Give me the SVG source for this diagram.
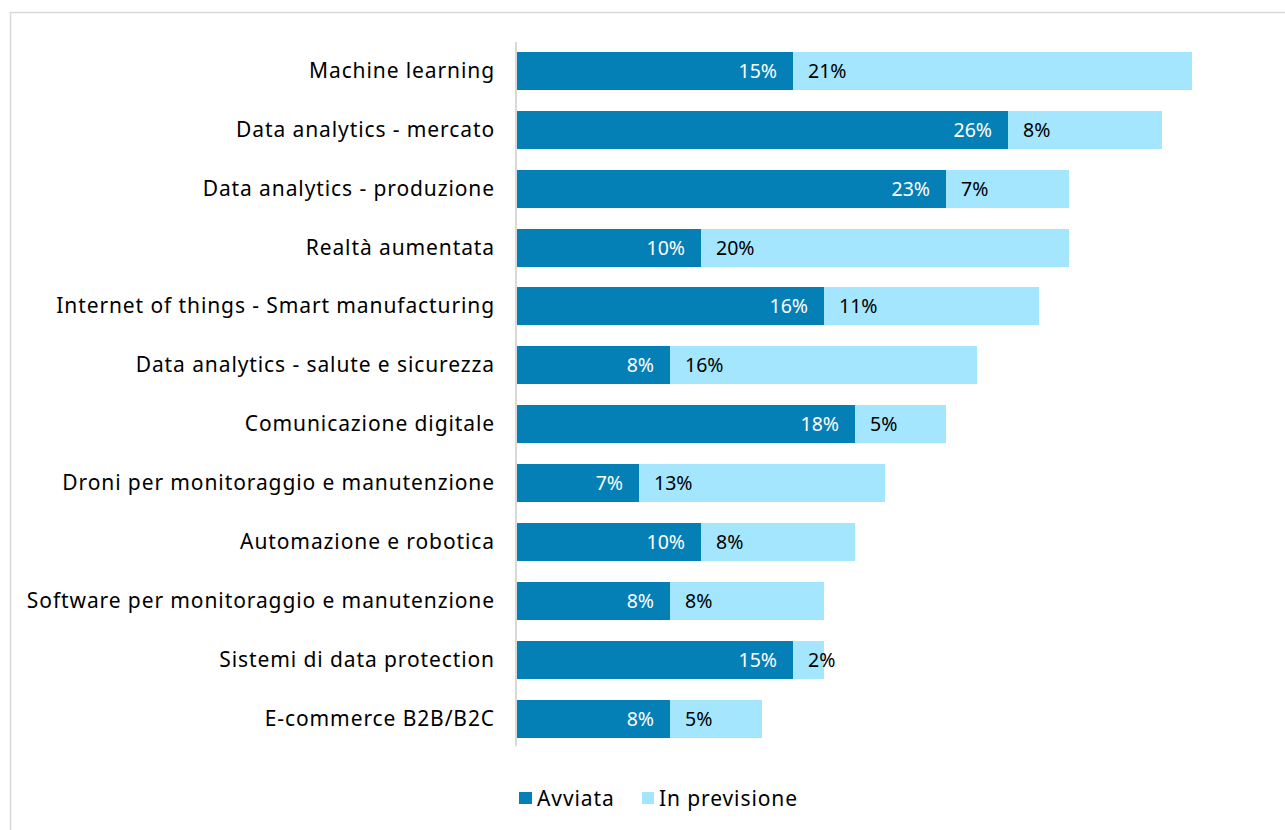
<svg xmlns="http://www.w3.org/2000/svg" width="1285" height="830" viewBox="0 0 1285 830">
<style>
.cat{font-family:"Noto Sans","DejaVu Sans",sans-serif;font-size:21px;letter-spacing:0.9px;fill:#000;text-anchor:end}
.vin{font-family:"Noto Sans","DejaVu Sans",sans-serif;font-size:19.5px;fill:#fff;text-anchor:end}
.vout{font-family:"Noto Sans","DejaVu Sans",sans-serif;font-size:19.5px;fill:#000}
.leg{font-family:"Noto Sans","DejaVu Sans",sans-serif;font-size:21px;letter-spacing:0.9px;fill:#000}
.d{fill:#0580b6}
.l{fill:#a3e6fe}
</style>
<rect x="0" y="0" width="1285" height="830" fill="#fff"/>
<rect x="10.5" y="12.5" width="1290" height="830" fill="none" stroke="#d9d9d9" stroke-width="1.5"/>
<g id="axis"><line x1="516" y1="42" x2="516" y2="746" stroke="#d9d9d9" stroke-width="2"/></g>
<g id="row1"><text class="cat" x="495" y="78">Machine learning</text><rect class="d" x="517" y="52" width="276" height="38"/><rect class="l" x="793" y="52" width="399" height="38"/><text class="vin" x="777" y="78">15%</text><text class="vout" x="808" y="78">21%</text></g>
<g id="row2"><text class="cat" x="495" y="137">Data analytics - mercato</text><rect class="d" x="517" y="111" width="491" height="38"/><rect class="l" x="1008" y="111" width="154" height="38"/><text class="vin" x="992" y="137">26%</text><text class="vout" x="1023" y="137">8%</text></g>
<g id="row3"><text class="cat" x="495" y="196">Data analytics - produzione</text><rect class="d" x="517" y="170" width="429" height="38"/><rect class="l" x="946" y="170" width="123" height="38"/><text class="vin" x="930" y="196">23%</text><text class="vout" x="961" y="196">7%</text></g>
<g id="row4"><text class="cat" x="495" y="255">Realtà aumentata</text><rect class="d" x="517" y="229" width="184" height="38"/><rect class="l" x="701" y="229" width="368" height="38"/><text class="vin" x="685" y="255">10%</text><text class="vout" x="716" y="255">20%</text></g>
<g id="row5"><text class="cat" x="495" y="313">Internet of things - Smart manufacturing</text><rect class="d" x="517" y="287" width="307" height="38"/><rect class="l" x="824" y="287" width="215" height="38"/><text class="vin" x="808" y="313">16%</text><text class="vout" x="839" y="313">11%</text></g>
<g id="row6"><text class="cat" x="495" y="372">Data analytics - salute e sicurezza</text><rect class="d" x="517" y="346" width="153" height="38"/><rect class="l" x="670" y="346" width="307" height="38"/><text class="vin" x="654" y="372">8%</text><text class="vout" x="685" y="372">16%</text></g>
<g id="row7"><text class="cat" x="495" y="431">Comunicazione digitale</text><rect class="d" x="517" y="405" width="338" height="38"/><rect class="l" x="855" y="405" width="91" height="38"/><text class="vin" x="839" y="431">18%</text><text class="vout" x="870" y="431">5%</text></g>
<g id="row8"><text class="cat" x="495" y="490">Droni per monitoraggio e manutenzione</text><rect class="d" x="517" y="464" width="122" height="38"/><rect class="l" x="639" y="464" width="246" height="38"/><text class="vin" x="623" y="490">7%</text><text class="vout" x="654" y="490">13%</text></g>
<g id="row9"><text class="cat" x="495" y="549">Automazione e robotica</text><rect class="d" x="517" y="523" width="184" height="38"/><rect class="l" x="701" y="523" width="154" height="38"/><text class="vin" x="685" y="549">10%</text><text class="vout" x="716" y="549">8%</text></g>
<g id="row10"><text class="cat" x="495" y="608">Software per monitoraggio e manutenzione</text><rect class="d" x="517" y="582" width="153" height="38"/><rect class="l" x="670" y="582" width="154" height="38"/><text class="vin" x="654" y="608">8%</text><text class="vout" x="685" y="608">8%</text></g>
<g id="row11"><text class="cat" x="495" y="667">Sistemi di data protection</text><rect class="d" x="517" y="641" width="276" height="38"/><rect class="l" x="793" y="641" width="31" height="38"/><text class="vin" x="777" y="667">15%</text><text class="vout" x="808" y="667">2%</text></g>
<g id="row12"><text class="cat" x="495" y="726">E-commerce B2B/B2C</text><rect class="d" x="517" y="700" width="153" height="38"/><rect class="l" x="670" y="700" width="92" height="38"/><text class="vin" x="654" y="726">8%</text><text class="vout" x="685" y="726">5%</text></g>
<g id="legend"><rect class="d" x="519" y="792" width="13" height="12"/><text class="leg" x="537" y="806">Avviata</text><rect class="l" x="642" y="792" width="12" height="12"/><text class="leg" x="659" y="806">In previsione</text></g>
</svg>
